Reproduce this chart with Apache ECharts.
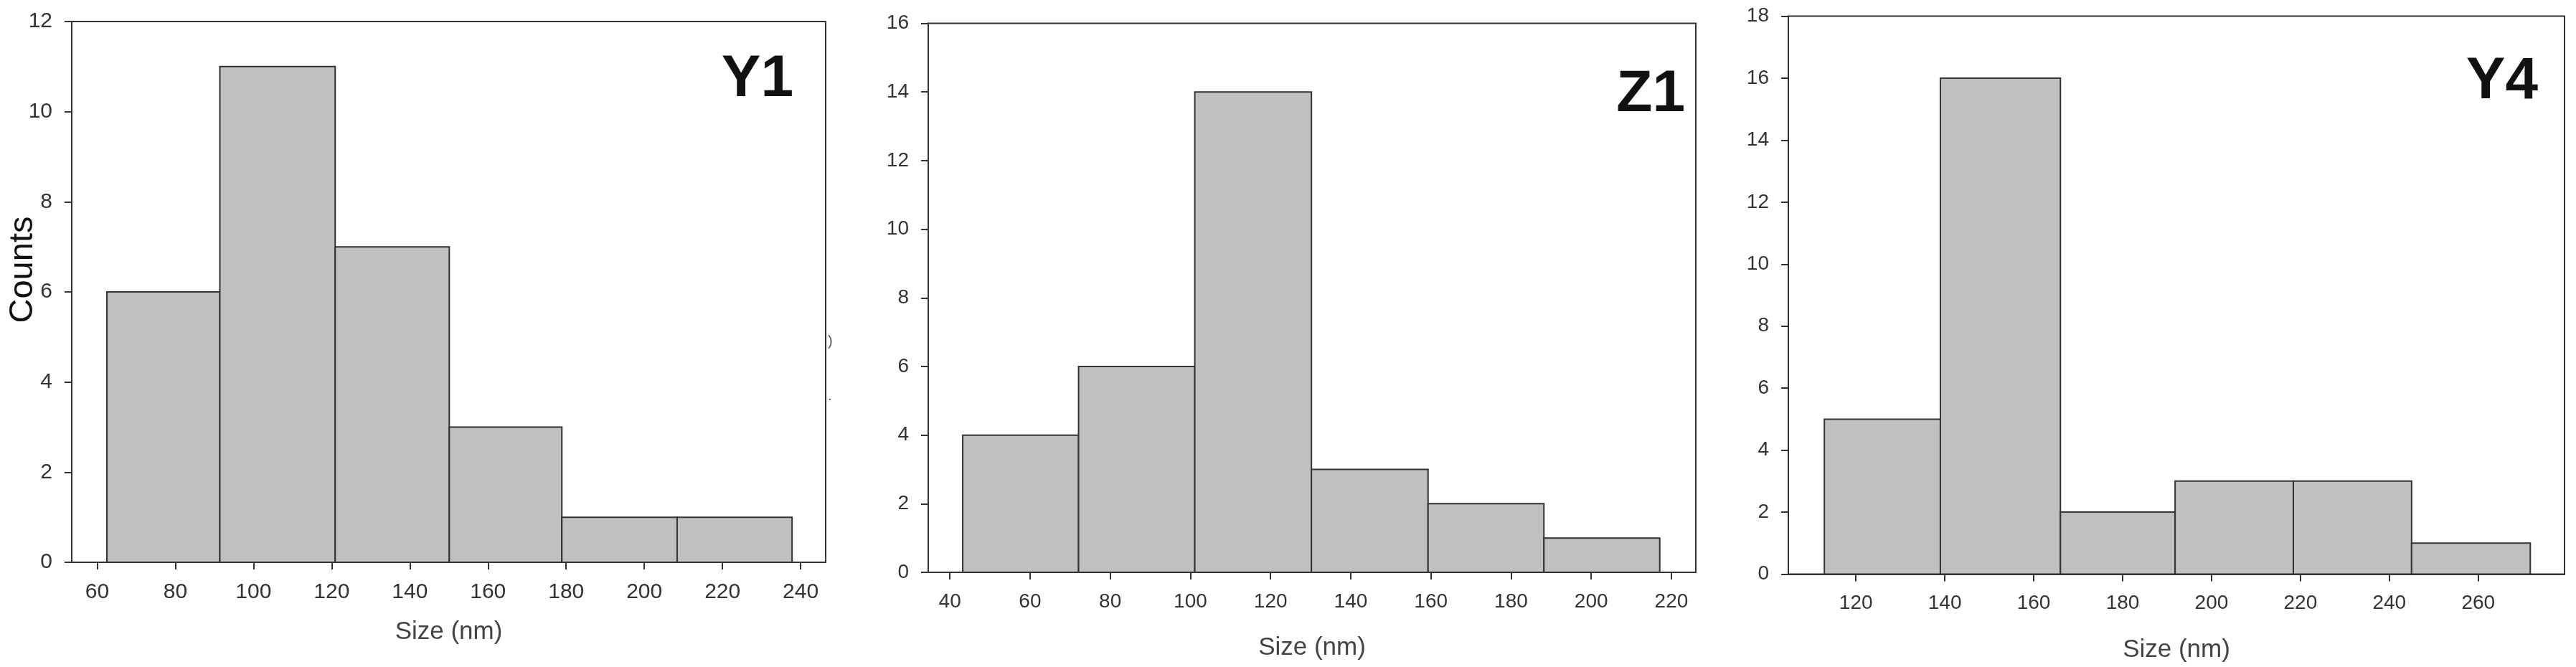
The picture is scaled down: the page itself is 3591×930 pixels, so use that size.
<!DOCTYPE html>
<html>
<head>
<meta charset="utf-8">
<title>Size histograms</title>
<script src="https://cdn.jsdelivr.net/npm/echarts@6/dist/echarts.min.js"></script>
<style>
  html, body { margin: 0; padding: 0; background: #fff; }
  #main { width: 3591px; height: 930px; }
</style>
</head>
<body>
<div id="main"></div>
<script>
// bin edges (nm) and counts
const y1Edges = [62.5, 91.4, 120.9, 150.1, 178.9, 208.4, 237.8];
const y1Counts = [6, 11, 7, 3, 1, 1];
const z1Edges = [43.2, 72.1, 101.1, 130.2, 159.3, 188.2, 217.1];
const z1Counts = [4, 6, 14, 3, 2, 1];
const y4Edges = [112.9, 139.0, 166.0, 191.8, 218.4, 245.0, 271.7];
const y4Counts = [5, 16, 2, 3, 3, 1];

// tick labels on the size axes
const y1Ticks = [60, 80, 100, 120, 140, 160, 180, 200, 220, 240];
const z1Ticks = [40, 60, 80, 100, 120, 140, 160, 180, 200, 220];
const y4Ticks = [120, 140, 160, 180, 200, 220, 240, 260];

const panelNames = ['Y1', 'Z1', 'Y4'];

var myChart = echarts.init(document.getElementById('main'));

function toBins(edges, counts) {
  return counts.map(function (c, i) { return [edges[i], edges[i + 1], c]; });
}

function renderBin(params, api) {
  var p0 = api.coord([api.value(0), 0]);
  var p1 = api.coord([api.value(1), api.value(2)]);
  return {
    type: 'rect',
    shape: { x: p0[0], y: p1[1], width: p1[0] - p0[0], height: p0[1] - p1[1] },
    style: { fill: '#c0c0c0', stroke: '#333', lineWidth: 2 }
  };
}

var font = "'Liberation Sans', Arial, sans-serif";
var lineDark = { color: '#333', width: 2 };

function xAxisFor(idx, min, max, ticks, gap, fs) {
  return {
    type: 'value', gridIndex: idx, min: min, max: max,
    splitLine: { show: false },
    axisLine: { show: true, lineStyle: lineDark },
    axisTick: { show: true, length: 10, customValues: ticks, lineStyle: lineDark },
    axisLabel: { customValues: ticks, margin: 27, fontSize: fs, color: '#333', fontFamily: font },
    name: 'Size (nm)', nameLocation: 'middle', nameGap: gap,
    nameTextStyle: { fontSize: 35, color: '#444', fontFamily: font }
  };
}

function yAxisFor(idx, max, fs) {
  return {
    type: 'value', gridIndex: idx, min: 0, max: max, interval: 2,
    splitLine: { show: false },
    axisLine: { show: true, lineStyle: lineDark },
    axisTick: { show: true, length: 10, lineStyle: lineDark },
    axisLabel: { margin: 27, fontSize: fs, color: '#333', fontFamily: font }
  };
}

var gridBase = { show: true, borderColor: '#333', borderWidth: 2, backgroundColor: 'transparent', outerBoundsMode: 'none' };

function panelLabel(text, right, midY) {
  return {
    type: 'text', x: right, y: midY,
    style: { text: text, font: 'bold 82px ' + font, fill: '#111', align: 'right', verticalAlign: 'middle' }
  };
}

var option = {
  animation: false,
  backgroundColor: '#fff',
  grid: [
    Object.assign({ left: 100, top: 30, width: 1051, height: 754 }, gridBase),
    Object.assign({ left: 1294, top: 32.5, width: 1070, height: 765.5 }, gridBase),
    Object.assign({ left: 2493, top: 22.5, width: 1082, height: 778 }, gridBase)
  ],
  xAxis: [
    xAxisFor(0, 53.5, 246.4, y1Ticks, 80, 30),
    xAxisFor(1, 34.6, 226.1, z1Ticks, 88, 28),
    xAxisFor(2, 104.8, 279.4, y4Ticks, 88, 28)
  ],
  yAxis: [
    yAxisFor(0, 12, 30),
    yAxisFor(1, 16, 28),
    yAxisFor(2, 18, 28)
  ],
  series: [
    { type: 'custom', xAxisIndex: 0, yAxisIndex: 0, renderItem: renderBin, encode: { x: [0, 1], y: 2 }, data: toBins(y1Edges, y1Counts) },
    { type: 'custom', xAxisIndex: 1, yAxisIndex: 1, renderItem: renderBin, encode: { x: [0, 1], y: 2 }, data: toBins(z1Edges, z1Counts) },
    { type: 'custom', xAxisIndex: 2, yAxisIndex: 2, renderItem: renderBin, encode: { x: [0, 1], y: 2 }, data: toBins(y4Edges, y4Counts) }
  ],
  graphic: [
    panelLabel(panelNames[0], 1106, 111),
    panelLabel(panelNames[1], 2349, 132),
    panelLabel(panelNames[2], 3538, 114),
    // y axis title of the first panel
    {
      type: 'text', x: 32, y: 376, rotation: Math.PI / 2,
      style: { text: 'Counts', font: '47px ' + font, fill: '#111', align: 'center', verticalAlign: 'middle' }
    },
    // stray marks left over between the first two panels
    { type: 'text', left: 1154, top: 466, style: { text: ')', font: '20px ' + font, fill: '#555' } },
    { type: 'text', left: 1154, top: 542, style: { text: '.', font: '20px ' + font, fill: '#555' } }
  ]
};

option && myChart.setOption(option);
</script>
</body>
</html>
